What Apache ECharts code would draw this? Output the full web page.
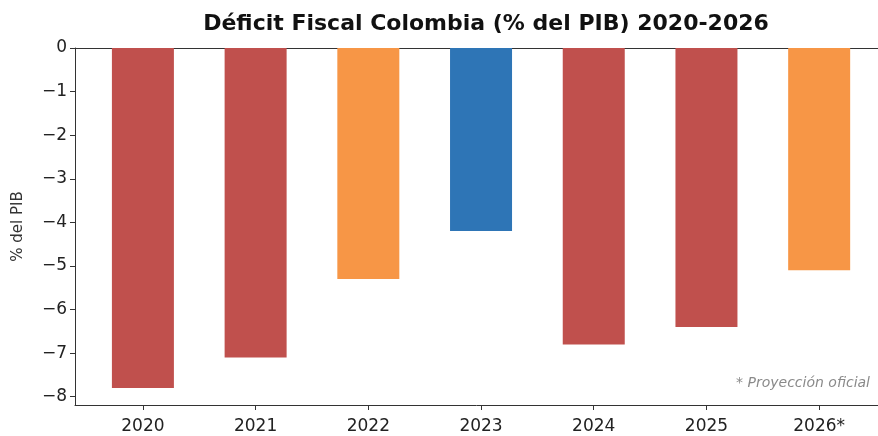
<!DOCTYPE html>
<html><head><meta charset="utf-8">
<script src="https://cdn.jsdelivr.net/npm/echarts@6/dist/echarts.min.js"></script>
<style>html,body{margin:0;padding:0;background:#fff}#c{width:878px;height:436px}</style>
</head><body><div id="c"></div>
<script>
const categories = ['2020','2021','2022','2023','2024','2025','2026*'];
const deficit = [-7.8, -7.1, -5.3, -4.2, -6.8, -6.4, -5.1];
const barColors = ['#c0504d','#c0504d','#f79646','#2e75b6','#c0504d','#c0504d','#f79646'];
const yTicks = [0,-1,-2,-3,-4,-5,-6,-7,-8];
const xTicks = [0,1,2,3,4,5,6];

const font = 'DejaVu Sans';
const chart = echarts.init(document.getElementById('c'), null, {renderer:'canvas'});
chart.setOption({
  animation:false,
  title:{text:'Déficit Fiscal Colombia (% del PIB) 2020-2026', left:481, top:8, textAlign:'center',
    textStyle:{fontFamily:font, fontWeight:'bold', fontSize:22, color:'#111'}},
  grid:{left:75, right:0, top:48, bottom:31},
  xAxis:[{
    type:'value', min:-0.6025, max:6.522, position:'bottom',
    splitLine:{show:false},
    axisLine:{show:true, onZero:false, lineStyle:{color:'#333', width:1}},
    axisTick:{show:true, customValues:xTicks, length:5, lineStyle:{color:'#333'}},
    axisLabel:{customValues:xTicks, formatter:v=>categories[Math.round(v)], fontFamily:font, fontSize:17, color:'#222', margin:13}
  },{
    type:'value', min:-0.6025, max:6.522, position:'top',
    splitLine:{show:false},
    axisLine:{show:true, onZero:false, lineStyle:{color:'#333', width:1}},
    axisTick:{show:false}, axisLabel:{show:false}
  }],
  yAxis:{
    type:'value', min:-8.19, max:0,
    name:'% del PIB', nameLocation:'middle', nameGap:49, nameRotate:90,
    nameTextStyle:{fontFamily:font, fontSize:15, color:'#333'},
    splitLine:{show:false},
    axisLine:{show:true, onZero:false, lineStyle:{color:'#333', width:1}},
    axisTick:{show:true, customValues:yTicks, length:5, lineStyle:{color:'#333'}},
    axisLabel:{customValues:yTicks, formatter:v=>v===0?'0':'\u2212'+Math.abs(v), fontFamily:font, fontSize:17, color:'#222', margin:8}
  },
  series:[{
    type:'bar', barWidth:62, xAxisIndex:0,
    data: deficit.map((v,i)=>({value:[i,v], itemStyle:{color:barColors[i]}}))
  }],
  graphic:[{type:'text', right:8, top:376,
    style:{text:'* Proyección oficial', fontFamily:font, fontStyle:'italic', fontSize:14, fill:'#8a8a8a'}}]
});
</script></body></html>
